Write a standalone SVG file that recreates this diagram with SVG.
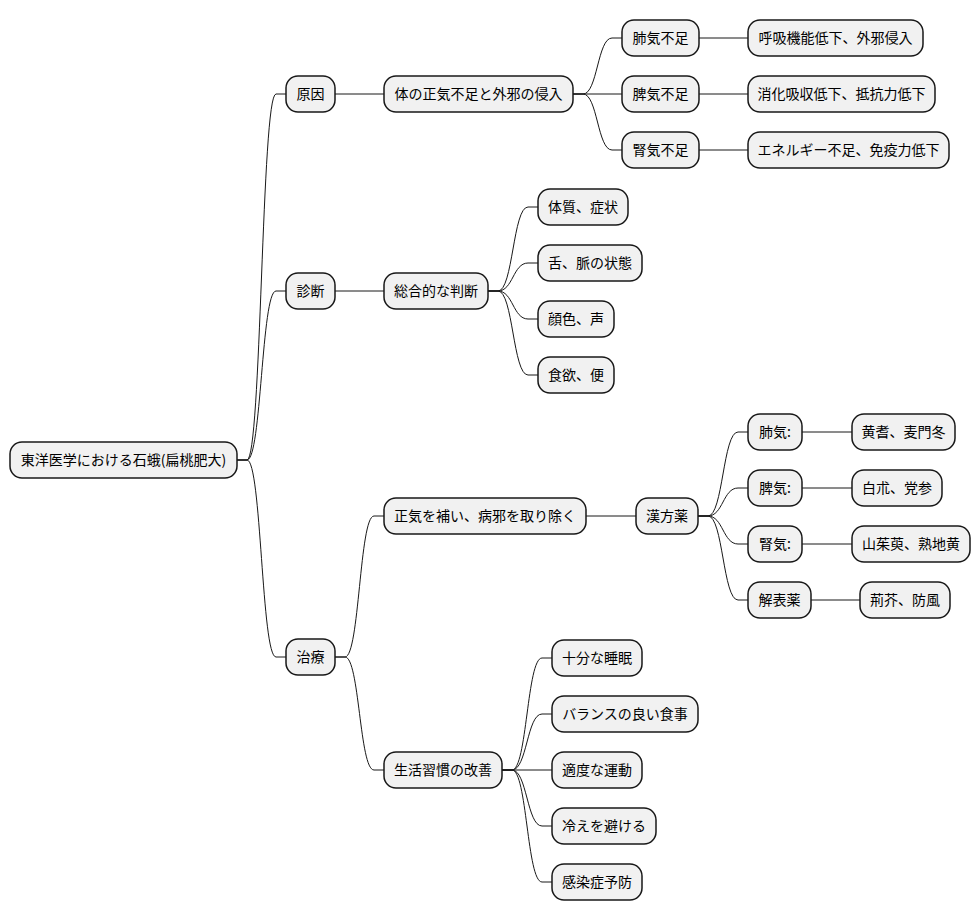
<svg xmlns="http://www.w3.org/2000/svg" width="980" height="921" viewBox="0 0 980 921">
<style>
.n rect{fill:#F1F1F1;stroke:#181818;stroke-width:1.5}
.n text{font-family:"Noto Sans CJK JP","Noto Sans",sans-serif;font-size:14px;fill:#000;text-anchor:middle}
#links path{fill:none;stroke:#181818;stroke-width:1}
</style>
<rect width="980" height="921" fill="#FFFFFF"/>
<g id="links">
<path d="M237 460 L247 460 C261.5 460 261.5 94 276 94 L286 94"/>
<path d="M237 460 L247 460 C261.5 460 261.5 291 276 291 L286 291"/>
<path d="M237 460 L247 460 C261.5 460 261.5 657 276 657 L286 657"/>
<path d="M335 94 L384 94"/>
<path d="M573 94 L583 94 C597.5 94 597.5 38 612 38 L622 38"/>
<path d="M573 94 L622 94"/>
<path d="M573 94 L583 94 C597.5 94 597.5 150 612 150 L622 150"/>
<path d="M699 38 L748 38"/>
<path d="M699 94 L748 94"/>
<path d="M699 150 L748 150"/>
<path d="M335 291 L384 291"/>
<path d="M488 291 L498 291 C513 291 513 207 528 207 L538 207"/>
<path d="M488 291 L498 291 C513 291 513 263 528 263 L538 263"/>
<path d="M488 291 L498 291 C513 291 513 319 528 319 L538 319"/>
<path d="M488 291 L498 291 C513 291 513 375 528 375 L538 375"/>
<path d="M335 657 L345 657 C359.5 657 359.5 516 374 516 L384 516"/>
<path d="M335 657 L345 657 C359.5 657 359.5 770 374 770 L384 770"/>
<path d="M586 516 L636 516"/>
<path d="M698 516 L708 516 C723 516 723 432 738 432 L748 432"/>
<path d="M698 516 L708 516 C723 516 723 488 738 488 L748 488"/>
<path d="M698 516 L708 516 C723 516 723 544 738 544 L748 544"/>
<path d="M698 516 L708 516 C723 516 723 600 738 600 L748 600"/>
<path d="M802 432 L852 432"/>
<path d="M802 488 L852 488"/>
<path d="M802 544 L852 544"/>
<path d="M811 600 L860 600"/>
<path d="M502 770 L512 770 C527 770 527 658 542 658 L552 658"/>
<path d="M502 770 L512 770 C527 770 527 714 542 714 L552 714"/>
<path d="M502 770 L552 770"/>
<path d="M502 770 L512 770 C527 770 527 826 542 826 L552 826"/>
<path d="M502 770 L512 770 C527 770 527 882 542 882 L552 882"/>
</g>
<g id="root" class="n"><rect x="10" y="442" width="227" height="36" rx="12"/><text x="123.5" y="465">東洋医学における石蛾(扁桃肥大)</text></g>
<g id="cause" class="n"><rect x="286" y="76" width="49" height="36" rx="12"/><text x="310.5" y="99">原因</text></g>
<g id="cause1" class="n"><rect x="384" y="76" width="189" height="36" rx="12"/><text x="478.5" y="99">体の正気不足と外邪の侵入</text></g>
<g id="lung" class="n"><rect x="622" y="20" width="77" height="36" rx="12"/><text x="660.5" y="43">肺気不足</text></g>
<g id="lung1" class="n"><rect x="748" y="20" width="175" height="36" rx="12"/><text x="835.5" y="43">呼吸機能低下、外邪侵入</text></g>
<g id="spleen" class="n"><rect x="622" y="76" width="77" height="36" rx="12"/><text x="660.5" y="99">脾気不足</text></g>
<g id="spleen1" class="n"><rect x="748" y="76" width="187" height="36" rx="12"/><text x="841.5" y="99">消化吸収低下、抵抗力低下</text></g>
<g id="kidney" class="n"><rect x="622" y="132" width="77" height="36" rx="12"/><text x="660.5" y="155">腎気不足</text></g>
<g id="kidney1" class="n"><rect x="748" y="132" width="201" height="36" rx="12"/><text x="848.5" y="155">エネルギー不足、免疫力低下</text></g>
<g id="diag" class="n"><rect x="286" y="273" width="49" height="36" rx="12"/><text x="310.5" y="296">診断</text></g>
<g id="diag1" class="n"><rect x="384" y="273" width="104" height="36" rx="12"/><text x="436" y="296">総合的な判断</text></g>
<g id="d1" class="n"><rect x="538" y="189" width="90" height="36" rx="12"/><text x="583" y="212">体質、症状</text></g>
<g id="d2" class="n"><rect x="538" y="245" width="104" height="36" rx="12"/><text x="590" y="268">舌、脈の状態</text></g>
<g id="d3" class="n"><rect x="538" y="301" width="76" height="36" rx="12"/><text x="576" y="324">顔色、声</text></g>
<g id="d4" class="n"><rect x="538" y="357" width="76" height="36" rx="12"/><text x="576" y="380">食欲、便</text></g>
<g id="treat" class="n"><rect x="286" y="639" width="49" height="36" rx="12"/><text x="310.5" y="662">治療</text></g>
<g id="t1" class="n"><rect x="384" y="498" width="202" height="36" rx="12"/><text x="485" y="521">正気を補い、病邪を取り除く</text></g>
<g id="kampo" class="n"><rect x="636" y="498" width="62" height="36" rx="12"/><text x="667" y="521">漢方薬</text></g>
<g id="k1" class="n"><rect x="748" y="414" width="54" height="36" rx="12"/><text x="775" y="437">肺気:</text></g>
<g id="k1a" class="n"><rect x="852" y="414" width="103" height="36" rx="12"/><text x="903.5" y="437">黄耆、麦門冬</text></g>
<g id="k2" class="n"><rect x="748" y="470" width="54" height="36" rx="12"/><text x="775" y="493">脾気:</text></g>
<g id="k2a" class="n"><rect x="852" y="470" width="90" height="36" rx="12"/><text x="897" y="493">白朮、党参</text></g>
<g id="k3" class="n"><rect x="748" y="526" width="54" height="36" rx="12"/><text x="775" y="549">腎気:</text></g>
<g id="k3a" class="n"><rect x="852" y="526" width="118" height="36" rx="12"/><text x="911" y="549">山茱萸、熟地黄</text></g>
<g id="k4" class="n"><rect x="748" y="582" width="63" height="36" rx="12"/><text x="779.5" y="605">解表薬</text></g>
<g id="k4a" class="n"><rect x="860" y="582" width="90" height="36" rx="12"/><text x="905" y="605">荊芥、防風</text></g>
<g id="t2" class="n"><rect x="384" y="752" width="118" height="36" rx="12"/><text x="443" y="775">生活習慣の改善</text></g>
<g id="l1" class="n"><rect x="552" y="640" width="90" height="36" rx="12"/><text x="597" y="663">十分な睡眠</text></g>
<g id="l2" class="n"><rect x="552" y="696" width="146" height="36" rx="12"/><text x="625" y="719">バランスの良い食事</text></g>
<g id="l3" class="n"><rect x="552" y="752" width="90" height="36" rx="12"/><text x="597" y="775">適度な運動</text></g>
<g id="l4" class="n"><rect x="552" y="808" width="104" height="36" rx="12"/><text x="604" y="831">冷えを避ける</text></g>
<g id="l5" class="n"><rect x="552" y="864" width="90" height="36" rx="12"/><text x="597" y="887">感染症予防</text></g>
</svg>
